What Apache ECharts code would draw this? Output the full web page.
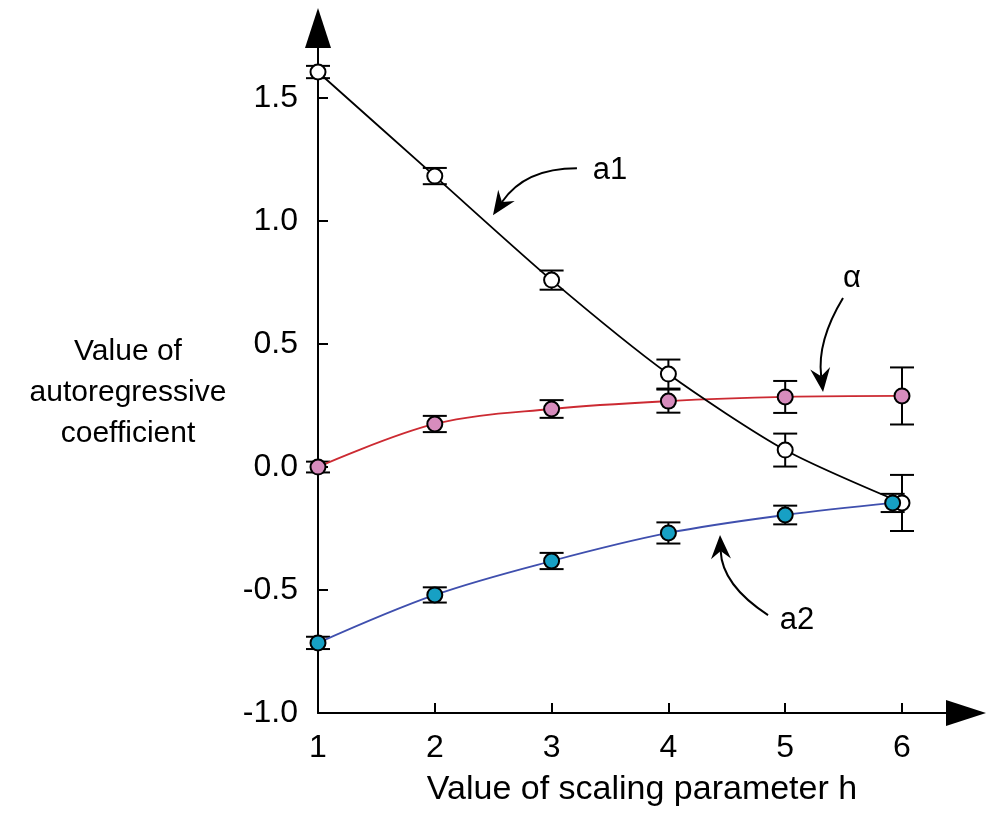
<!DOCTYPE html>
<html>
<head>
<meta charset="utf-8">
<script src="https://cdn.jsdelivr.net/npm/echarts@6/dist/echarts.min.js"></script>
<style>html,body{margin:0;padding:0;background:#fff}#c{width:987px;height:814px}</style>
</head>
<body>
<div id="c"></div>
<script>
// ---- data ----
var h = [1, 2, 3, 4, 5, 6];
var a1 = [1.606, 1.183, 0.760, 0.378, 0.069, -0.146];
var a1Err = [0.025, 0.033, 0.039, 0.059, 0.067, 0.114];
var alpha = [0.0, 0.175, 0.236, 0.268, 0.285, 0.289];
var alphaErr = [0.022, 0.033, 0.036, 0.047, 0.065, 0.116];
var a2H = [1, 2, 3, 4, 5, 5.92];
var a2 = [-0.715, -0.520, -0.382, -0.268, -0.195, -0.146];
var a2Err = [0.025, 0.031, 0.033, 0.043, 0.038, 0.037];
var yTicks = [-1.0, -0.5, 0.0, 0.5, 1.0, 1.5];
var xTicks = [1, 2, 3, 4, 5, 6];
// annotation anchors in data coordinates: label, label pos, arrow start, control, tip
var notes = [
  {t: 'a1', pos: [3.50, 1.207], p0: [3.217, 1.215], cp: [2.772, 1.215], p2: [2.498, 1.024]},
  {t: 'α', pos: [5.572, 0.768], p0: [5.495, 0.687], cp: [5.272, 0.512], p2: [5.324, 0.305]},
  {t: 'a2', pos: [5.101, -0.622], p0: [4.853, -0.602], cp: [4.459, -0.480], p2: [4.442, -0.276]}
];

function pairs(xs, ys) { return xs.map(function (x, i) { return [x, ys[i]]; }); }
function errs(xs, ys, es) { return xs.map(function (x, i) { return [x, ys[i] - es[i], ys[i] + es[i]]; }); }

var FONT = '"Liberation Sans", Arial, Helvetica, sans-serif';

function errRender(params, api) {
  var x = api.value(0);
  var lo = api.coord([x, api.value(1)]);
  var hi = api.coord([x, api.value(2)]);
  var w = 12;
  var st = {stroke: '#000', lineWidth: 2};
  return {type: 'group', children: [
    {type: 'line', shape: {x1: lo[0], y1: lo[1], x2: hi[0], y2: hi[1]}, style: st},
    {type: 'line', shape: {x1: lo[0] - w, y1: lo[1], x2: lo[0] + w, y2: lo[1]}, style: st},
    {type: 'line', shape: {x1: hi[0] - w, y1: hi[1], x2: hi[0] + w, y2: hi[1]}, style: st}
  ]};
}

var chart = echarts.init(document.getElementById('c'), null, {renderer: 'canvas'});
var option = {
  animation: false,
  backgroundColor: '#fff',
  grid: {left: 318, right: 21, top: 28, bottom: 101, containLabel: false},
  xAxis: {
    type: 'value', min: 1, max: 6.548,
    name: 'Value of scaling parameter h', nameLocation: 'middle', nameGap: 60,
    nameTextStyle: {fontFamily: FONT, fontSize: 34, color: '#000'},
    axisLine: {onZero: false, lineStyle: {color: '#000', width: 2}, symbol: ['none', 'triangle'], symbolSize: [26, 40]},
    axisTick: {inside: true, length: 10, lineStyle: {color: '#000', width: 2}, customValues: xTicks},
    axisLabel: {fontFamily: FONT, fontSize: 32, color: '#000', margin: 19, customValues: xTicks},
    splitLine: {show: false}
  },
  yAxis: {
    type: 'value', min: -1.0, max: 1.785,
    axisLine: {onZero: false, lineStyle: {color: '#000', width: 2}, symbol: ['none', 'triangle'], symbolSize: [26, 40]},
    axisTick: {inside: true, length: 10, lineStyle: {color: '#000', width: 2}, customValues: yTicks},
    axisLabel: {fontFamily: FONT, fontSize: 32, color: '#000', margin: 20, customValues: yTicks,
      formatter: function (v) { return v.toFixed(1); }},
    splitLine: {show: false}
  },
  series: [
    {type: 'custom', name: 'a1 err', data: errs(h, a1, a1Err), renderItem: errRender, z: 1, clip: false},
    {type: 'custom', name: 'alpha err', data: errs(h, alpha, alphaErr), renderItem: errRender, z: 1, clip: false},
    {type: 'custom', name: 'a2 err', data: errs(a2H, a2, a2Err), renderItem: errRender, z: 1, clip: false},
    {type: 'line', name: 'α', data: pairs(h, alpha), smooth: 0.35, z: 3,
      lineStyle: {color: '#cc2a32', width: 1.8},
      symbol: 'circle', symbolSize: 15, itemStyle: {color: '#d78cbd', borderColor: '#000', borderWidth: 2}},
    {type: 'line', name: 'a1', data: pairs(h, a1), smooth: 0.25, z: 4,
      lineStyle: {color: '#000', width: 1.8},
      symbol: 'circle', symbolSize: 15, itemStyle: {color: '#fff', borderColor: '#000', borderWidth: 2}},
    {type: 'line', name: 'a2', data: pairs(a2H, a2), smooth: 0.35, z: 5,
      lineStyle: {color: '#3f4fae', width: 1.8},
      symbol: 'circle', symbolSize: 15, itemStyle: {color: '#17a0c4', borderColor: '#000', borderWidth: 2}}
  ]
};
chart.setOption(option);

var g = [];
g.push({type: 'text', x: 128, y: 331, z: 10,
  style: {text: 'Value of\nautoregressive\ncoefficient', font: '30px ' + FONT, fill: '#000', align: 'center', verticalAlign: 'top', lineHeight: 41}});
notes.forEach(function (n) {
  var P = chart.convertToPixel({gridIndex: 0}, n.pos);
  var A = chart.convertToPixel({gridIndex: 0}, n.p0);
  var C = chart.convertToPixel({gridIndex: 0}, n.cp);
  var B = chart.convertToPixel({gridIndex: 0}, n.p2);
  var dx = B[0] - C[0], dy = B[1] - C[1];
  var L = Math.sqrt(dx * dx + dy * dy); dx /= L; dy /= L;
  var nx = -dy, ny = dx;
  var len = 24, hw = 10, notch = 16;
  var base = [B[0] - dx * len, B[1] - dy * len];
  var nt = [B[0] - dx * notch, B[1] - dy * notch];
  g.push({type: 'bezierCurve', z: 10,
    shape: {x1: A[0], y1: A[1], cpx1: C[0], cpy1: C[1], x2: nt[0], y2: nt[1]},
    style: {stroke: '#000', lineWidth: 2, fill: null}});
  g.push({type: 'polygon', z: 10,
    shape: {points: [B, [base[0] + nx * hw, base[1] + ny * hw], nt, [base[0] - nx * hw, base[1] - ny * hw]]},
    style: {fill: '#000'}});
  g.push({type: 'text', z: 10, x: P[0], y: P[1],
    style: {text: n.t, font: '31px ' + FONT, fill: '#000', align: 'center', verticalAlign: 'middle'}});
});
chart.setOption({graphic: g});
</script>
</body>
</html>
